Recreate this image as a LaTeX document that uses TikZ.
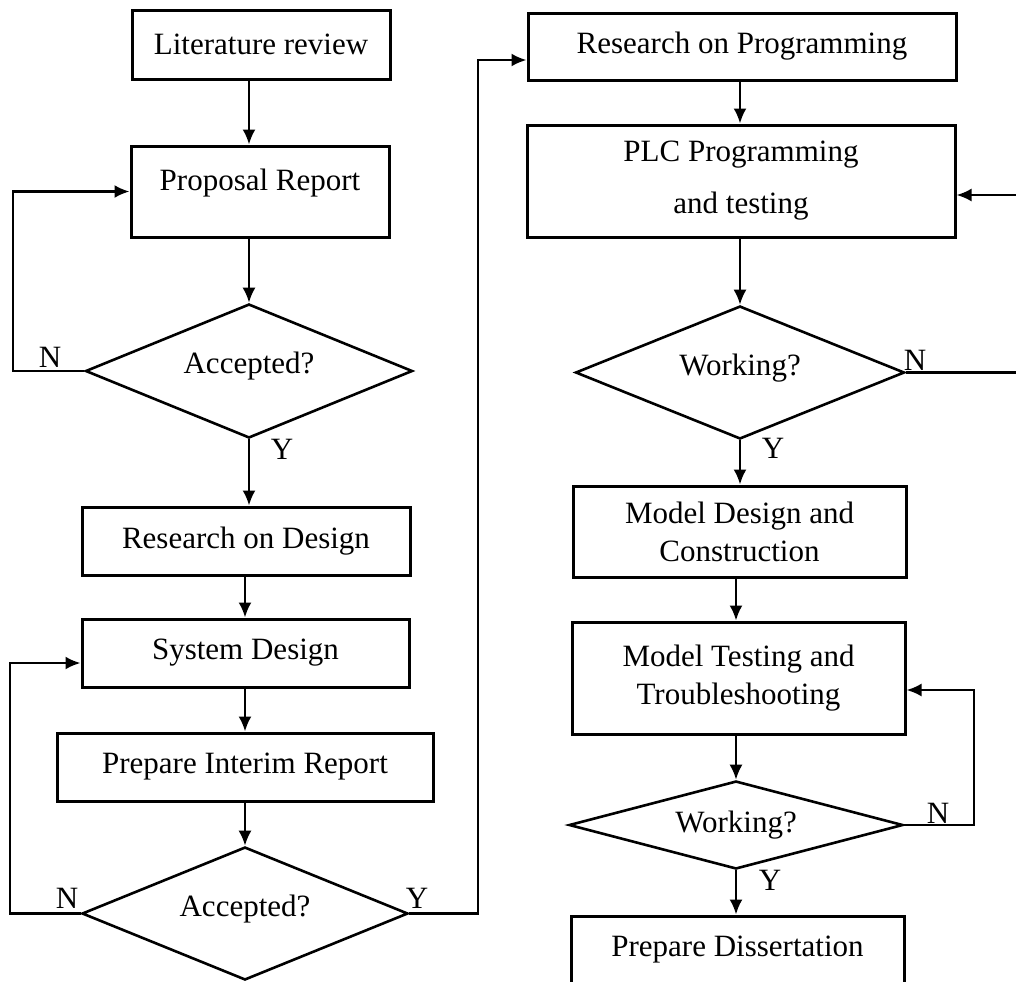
\documentclass[tikz,border=0pt]{standalone}
\usepackage{fontspec}
\setmainfont{Liberation Serif}
\usetikzlibrary{shapes.geometric,positioning,arrows.meta}

\begin{document}
\begin{tikzpicture}[x=0.5pt, y=-0.5pt, >={Latex[length=7.5pt,width=6.5pt]}, line width=1.2pt,
   every node/.style={font=\fontsize{15.5}{19}\selectfont},
   box/.style={draw, rectangle, line width=1.5pt, align=center, inner sep=1pt},
   decision/.style={draw, diamond, line width=1.3pt, inner sep=0pt, aspect=2.4},
   raised/.style={text depth=8pt},
   yn/.style={inner sep=0pt}
   ]
   \useasboundingbox (0,0) rectangle (1016,981);
   \clip (0,0) rectangle (1016,981);

   % left column
   \path (261,44.5) node[box, minimum width=129pt, minimum height=34.5pt] (lit) {Literature review}
   (260,191.5) node[box, minimum width=129pt, minimum height=45.5pt, inner ysep=0pt,
      text height=22pt, text depth=23.5pt] (prop) {Proposal Report};
   \path (249,371) node[decision, raised, minimum width=163.5pt, minimum height=67pt] (acc1) {Accepted?};
   \path (246,541) node[box, minimum width=164pt, minimum height=34pt] (rod) {Research on Design}
   (245.5,653) node[box, minimum width=163.5pt, minimum height=34pt] (sys) {System Design}
   (245,767) node[box, minimum width=188pt, minimum height=34pt] (pir) {Prepare Interim Report};
   \path (245,913.5) node[decision, raised, minimum width=163pt, minimum height=66.5pt] (acc2) {Accepted?};

   % right column
   \path (742,46.5) node[box, minimum width=214pt, minimum height=33.5pt] (rop) {Research on Programming}
   (741,181) node[box, minimum width=214pt, minimum height=56pt] (plc) {PLC Programming\\[7pt] and testing};
   \path (740,372.5) node[decision, raised, minimum width=164.5pt, minimum height=66.5pt] (work1) {Working?};
   \path (739.5,531.5) node[box, minimum width=166.5pt, minimum height=45.5pt] (mdc) {Model Design and\\ Construction}
   (738.5,678) node[box, minimum width=166.5pt, minimum height=56pt] (mtt) {Model Testing and\\ Troubleshooting};
   \path (736,825) node[decision, minimum width=167pt, minimum height=44pt] (work2) {Working?};
   \path (737.5,950) node[box, minimum width=166.5pt, minimum height=34pt] (pd) {Prepare Dissertation};

   % Y / N marks
   \path (50,357) node[yn] (n1) {N}
   (282,449) node[yn] (y1) {Y}
   (67,898) node[yn] (n2) {N}
   (417,898) node[yn] (y2) {Y}
   (915,360) node[yn] (n3) {N}
   (773,448) node[yn] (y3) {Y}
   (938,813) node[yn] (n4) {N}
   (770,880) node[yn] (y4) {Y};

   % loop corners
   \coordinate (l1) at (13,0);
   \coordinate (l2) at (10,0);
   \coordinate (r2) at (478,0);
   \coordinate (r1) at (1024,0);
   \coordinate (r3) at (974,0);

   \draw[->] (lit.south -| acc1.north) -- (prop.north -| acc1.north);
   \draw[->] (prop.south -| acc1.north) -- (acc1.north);
   \draw[->] (acc1.south) -- (acc1.south |- rod.north);
   \draw[->] (acc1.west) -- (acc1.west -| l1) |- (prop.west);

   \draw[->] (rod.south -| acc2.north) -- (sys.north -| acc2.north);
   \draw[->] (sys.south -| acc2.north) -- (pir.north -| acc2.north);
   \draw[->] (pir.south -| acc2.north) -- (acc2.north);
   \draw[->] (acc2.west) -- (acc2.west -| l2) |- ([yshift=-5pt]sys.west);
   \draw[->] (acc2.east) -- (acc2.east -| r2) |- ([yshift=-6.75pt]rop.west);

   \draw[->] (rop.south -| work1.north) -- (plc.north -| work1.north);
   \draw[->] (plc.south -| work1.north) -- (work1.north);
   \draw[->] (work1.south) -- (work1.south |- mdc.north);
   \draw[->] (work1.east) -- (work1.east -| r1) |- ([yshift=-7pt]plc.east);

   \draw[->] (mdc.south -| work2.north) -- (mtt.north -| work2.north);
   \draw[->] (mtt.south -| work2.north) -- (work2.north);
   \draw[->] (work2.east) -- (work2.east -| r3) |- ([yshift=-6pt]mtt.east);
   \draw[->] (work2.south) -- (pd.north -| work2.south);

\end{tikzpicture}
\end{document}
